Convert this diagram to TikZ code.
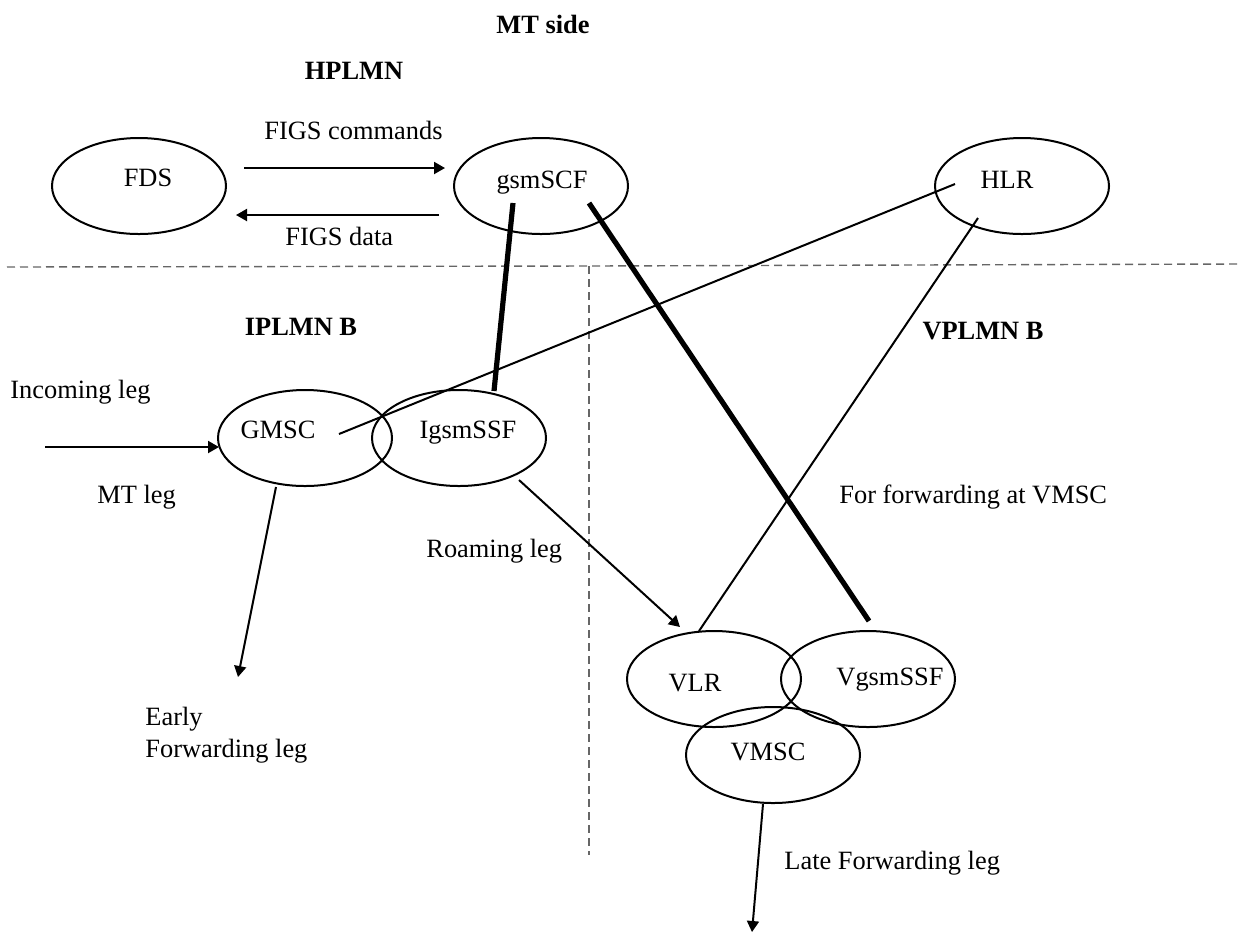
\documentclass[tikz,border=0pt]{standalone}
\usepackage{fontspec}
\setmainfont{Liberation Serif}
\usetikzlibrary{shapes.geometric,arrows.meta}
\begin{document}
\begin{tikzpicture}[x=0.5pt,y=-0.5pt,
  ent/.style={draw,ellipse,line width=1pt,inner sep=0pt,outer sep=0pt,minimum width=87pt,minimum height=48pt},
  lbl/.style={inner sep=0pt,font=\fontsize{13.2}{16}\selectfont},
  hdr/.style={inner sep=0pt,font=\fontsize{13.2}{16}\selectfont\bfseries},
  thinline/.style={line width=1pt},
  thickline/.style={line width=2.6pt},
  arr/.style={line width=1pt,-{Triangle[length=5.5pt,width=6pt]}},
  sepline/.style={draw=black!60,line width=0.7pt,dash pattern=on 4pt off 2.5pt}]
\useasboundingbox (0,0) rectangle (1240,934);

% separators
\coordinate (hl) at (7,267);
\coordinate (hm) at (589,266);
\coordinate (hr) at (1237,264);
\coordinate (vb) at (589,855);
\draw[sepline] (hl) -- (hm) -- (hr);
\draw[sepline] (hm) -- (vb);

% headings
\node[hdr,anchor=base] (mtside) at (543,33) {MT side};
\node[hdr,anchor=base] (hplmn) at (354,79) {HPLMN};
\node[hdr,anchor=base] (iplmn) at (301,335) {IPLMN B};
\node[hdr,anchor=base] (vplmn) at (983,339) {VPLMN B};

% entities
\node[ent] (fds) at (139,186) {};
\node[ent] (scf) at (541,186) {};
\node[ent] (hlr) at (1022,186) {};
\node[ent] (gmsc) at (305,438) {};
\node[ent] (issf) at (459,438) {};
\node[ent] (vlr) at (714,679) {};
\node[ent] (vssf) at (868,679) {};
\node[ent] (vmsc) at (773,755) {};

\node[lbl,anchor=base] (tfds) at (148,186) {FDS};
\node[lbl,anchor=base] (tscf) at (542,188) {gsmSCF};
\node[lbl,anchor=base] (thlr) at (1007,188) {HLR};
\node[lbl,anchor=base] (tgmsc) at (278,438) {GMSC};
\node[lbl,anchor=base] (tissf) at (468,438) {IgsmSSF};
\node[lbl,anchor=base] (tvlr) at (695,691) {VLR};
\node[lbl,anchor=base] (tvssf) at (890,685) {VgsmSSF};
\node[lbl,anchor=base] (tvmsc) at (768,760) {VMSC};

% text labels
\node[lbl,anchor=base west] (figc) at (264,139) {FIGS commands};
\node[lbl,anchor=base west] (figd) at (285,245) {FIGS data};
\node[lbl,anchor=base west] (inleg) at (10,398) {Incoming leg};
\node[lbl,anchor=base west] (mtleg) at (97,503) {MT leg};
\node[lbl,anchor=base west] (roam) at (426,557) {Roaming leg};
\node[lbl,anchor=base west] (early) at (145,725) {Early};
\node[lbl,anchor=base west] (fwdleg) at (145,757) {Forwarding leg};
\node[lbl,anchor=base west] (forvmsc) at (839,503) {For forwarding at VMSC};
\node[lbl,anchor=base west] (late) at (784,869) {Late Forwarding leg};

% connector end points
\coordinate (c1s) at (244,168);
\coordinate (c1e) at (445,168);
\coordinate (c2s) at (439,215);
\coordinate (c2e) at (236,215);
\coordinate (scfa) at (513,203);
\coordinate (issfa) at (494,391);
\coordinate (scfb) at (589,203);
\coordinate (vssfa) at (869,621);
\coordinate (gmsca) at (339,434);
\coordinate (hlra) at (955,184);
\coordinate (hlrb) at (978,218);
\coordinate (vlra) at (699,631);
\coordinate (ins) at (45,447);
\coordinate (gmscw) at (219,447);
\coordinate (gmscb) at (276,487);
\coordinate (earlyend) at (238,677);
\coordinate (issfb) at (519,480);
\coordinate (vlrtop) at (680,627);
\coordinate (vmscb) at (763,804);
\coordinate (lateend) at (752,932);

% connectors
\draw[arr] (c1s) -- (c1e);
\draw[arr] (c2s) -- (c2e);
\draw[thickline] (scfa) -- (issfa);
\draw[thickline] (scfb) -- (vssfa);
\draw[thinline] (gmsca) -- (hlra);
\draw[thinline] (hlrb) -- (vlra);
\draw[arr] (ins) -- (gmscw);
\draw[arr] (gmscb) -- (earlyend);
\draw[arr] (issfb) -- (vlrtop);
\draw[arr] (vmscb) -- (lateend);
\end{tikzpicture}
\end{document}
